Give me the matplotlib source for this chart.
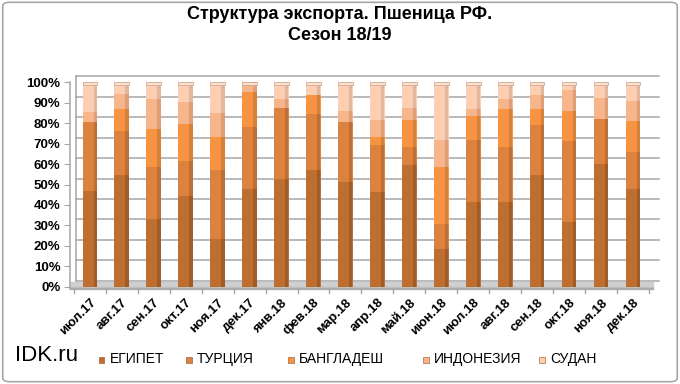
import numpy as np
import matplotlib
matplotlib.use("Agg")
import matplotlib.pyplot as plt
from matplotlib.patches import FancyBboxPatch, Rectangle
import matplotlib.transforms as mtransforms

plt.rcParams['font.family'] = ['Liberation Sans Narrow', 'Liberation Sans', 'DejaVu Sans']

months = ["июл.17", "авг.17", "сен.17", "окт.17", "ноя.17", "дек.17", "янв.18", "фев.18",
          "мар.18", "апр.18", "май.18", "июн.18", "июл.18", "авг.18", "сен.18", "окт.18",
          "ноя.18", "дек.18"]
egypt      = [46.7, 54.6, 33.1, 44.6, 23.4, 47.9, 52.5, 57.0, 51.3, 46.4, 59.5, 18.5, 41.3, 41.3, 54.6, 31.6, 60.2, 47.9]
turkey     = [34.0, 21.6, 25.4, 16.9, 33.5, 30.3, 34.7, 27.4, 29.4, 22.8, 8.9, 12.2, 30.5, 27.1, 24.6, 39.7, 21.8, 18.2]
bangladesh = [0.0, 10.7, 18.5, 18.3, 16.1, 17.2, 0.0, 9.5, 0.0, 4.1, 13.1, 27.8, 11.5, 18.5, 7.7, 14.4, 0.0, 14.7]
indonesia  = [4.9, 7.4, 14.8, 10.4, 11.8, 4.6, 4.6, 0.0, 5.4, 8.2, 5.9, 13.3, 3.6, 4.9, 7.0, 10.5, 10.1, 10.2]
sudan      = [14.4, 5.7, 8.2, 9.8, 15.2, 0.0, 8.2, 6.1, 13.9, 18.5, 12.6, 28.2, 13.1, 8.2, 6.1, 3.8, 7.9, 9.0]
series_names = ["ЕГИПЕТ", "ТУРЦИЯ", "БАНГЛАДЕШ", "ИНДОНЕЗИЯ", "СУДАН"]
yticks = [0, 10, 20, 30, 40, 50, 60, 70, 80, 90, 100]

colors = ["#BF6E31", "#DB833E", "#F69444", "#F8B48B", "#FCCFB3"]
darks = ["#8E4E1E", "#A8602A", "#C0702F", "#C98C6B", "#CDA58E"]

fig = plt.figure(figsize=(6.8, 3.84), dpi=100)
fig.patches.append(FancyBboxPatch((0.004, 0.006), 0.992, 0.988, boxstyle="round,pad=0,rounding_size=0.01",
                                  transform=fig.transFigure, facecolor="white", edgecolor="#A6A6A6",
                                  linewidth=1.2, zorder=-10))

ax = fig.add_axes([0.103, 0.253, 0.857, 0.533])
ax.set_xlim(-0.62, 17.62)
ax.set_ylim(0, 100)
ax.patch.set_alpha(0)

# back wall gridlines with 3D offset
off = mtransforms.ScaledTranslation(6/100, 6/100, fig.dpi_scale_trans)
for t in yticks:
    ax.plot([-0.62, 17.62], [t, t], color="#A6A6A6", lw=1.1, transform=ax.transData + off,
            clip_on=False, zorder=0)
# vertical back wall line
ax.plot([-0.62, -0.62], [0, 100], color="#A6A6A6", lw=1.1, transform=ax.transData + off,
        clip_on=False, zorder=0)
# floor
ax.fill_between([-0.62, 17.62], [-1.0, -1.0], [0, 0], color="#BFBFBF", zorder=0.5, clip_on=False)
ax.fill_between([-0.62, 17.62], [0, 0], [2.4, 2.4], color="#D0D0D0", zorder=0.4, clip_on=False)

x = np.arange(len(months))
data = [egypt, turkey, bangladesh, indonesia, sudan]
bottom = np.zeros(len(months))
w = 0.46
for vals, c, d, name in zip(data, colors, darks, series_names):
    v = np.array(vals)
    ax.bar(x, v, w, bottom=bottom, color=c, edgecolor="none", zorder=2, label=name)
    ax.bar(x + w * 0.36, v, w * 0.22, bottom=bottom, color=d, edgecolor="none", zorder=3, alpha=0.55)
    bottom += v

# top caps
ax.bar(x, np.full(len(months), 1.2), w, bottom=bottom - 1.2, color="#FDE0CE", edgecolor="#C9A08A",
       linewidth=0.5, zorder=4)

ax.set_yticks(yticks)
ax.set_yticklabels([f"{t}%" for t in yticks], fontsize=9.5, fontweight="bold")
ax.set_xticks(x)
ax.set_xticklabels(months, rotation=45, ha="right", va="top", rotation_mode="anchor",
                   fontsize=9.5, fontweight="bold")
ax.tick_params(axis="x", length=0, pad=7)
ax.tick_params(axis="y", length=4, color="#A6A6A6", pad=3)
for s in ["top", "right", "bottom"]:
    ax.spines[s].set_visible(False)
ax.spines["left"].set_color("#A6A6A6")
ax.spines["left"].set_linewidth(1.1)
ax.axhline(-1.0, color="#A6A6A6", lw=1.1, zorder=1, clip_on=False)
for xi in np.arange(-0.5, 18, 1.0):
    ax.plot([xi, xi], [-1.0, -3.2], color="#A6A6A6", lw=1, clip_on=False)

fig.text(0.5, 0.935, "Структура экспорта. Пшеница РФ.\nСезон 18/19", ha="center", va="center",
         fontsize=13, fontweight="bold", linespacing=1.25)

fig.text(0.022, 0.073, "IDK.ru", fontsize=16, ha="left", va="center")

legend_x = [0.145, 0.274, 0.424, 0.622, 0.793]
for lx, name, c in zip(legend_x, series_names, colors):
    fig.patches.append(Rectangle((lx, 0.055), 0.0085, 0.016, transform=fig.transFigure,
                                 facecolor=c, edgecolor="#8E4E1E", linewidth=0.4))
    fig.text(lx + 0.016, 0.064, name, fontsize=10, ha="left", va="center")

fig.savefig("out.png", dpi=100)
